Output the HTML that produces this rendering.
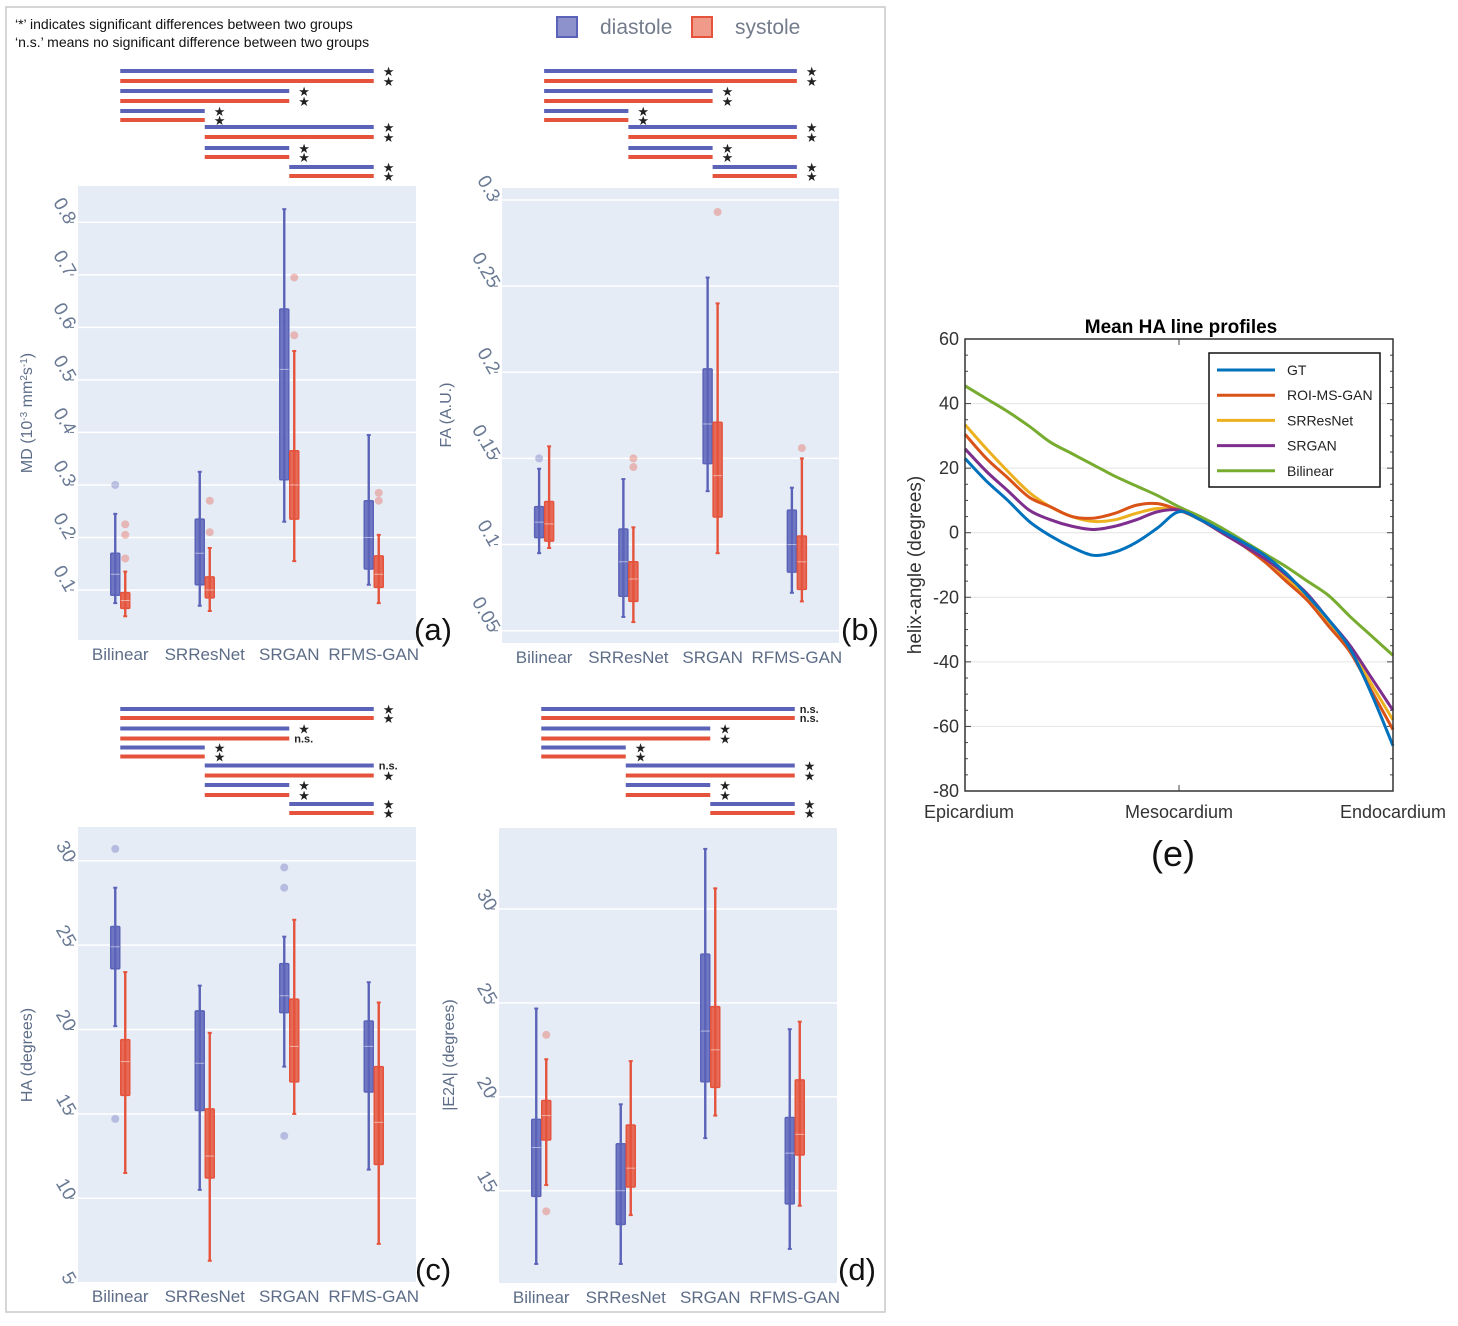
<!DOCTYPE html>
<html><head><meta charset="utf-8"><style>
html,body{margin:0;padding:0;background:#fff}
svg{display:block}
text{font-family:"Liberation Sans","DejaVu Sans",sans-serif}
</style></head><body>
<svg id="fig" width="1458" height="1326" viewBox="0 0 1458 1326" xmlns="http://www.w3.org/2000/svg">
<rect x="0" y="0" width="1458" height="1326" fill="#fff"/>
<rect x="6" y="7" width="879" height="1305" fill="none" stroke="#c8c8c8" stroke-width="1.5"/>
<text x="15" y="29" font-size="14" fill="#111">‘*’ indicates significant differences between two groups</text>
<text x="15" y="47" font-size="14" fill="#111">‘n.s.’ means no significant difference between two groups</text>
<g>
<rect x="557" y="17" width="20" height="20" fill="#8d92cc" stroke="#5b63b8" stroke-width="2"/>
<text x="600" y="34" font-size="21" fill="#747c8c">diastole</text>
<rect x="692" y="17" width="20" height="20" fill="#f09a8a" stroke="#e5533c" stroke-width="2"/>
<text x="735" y="34" font-size="21" fill="#747c8c">systole</text>
</g>
<g id="panels"></g>
<g id="pe"></g>
</svg>
<script>
// ---------- box plot data: [lowWhisker, q1, median, q3, highWhisker] ----------
const categories = ["Bilinear","SRResNet","SRGAN","RFMS-GAN"];
const mdDiastole = [[0.075,0.09,0.13,0.17,0.245],[0.07,0.11,0.17,0.235,0.325],[0.23,0.31,0.52,0.635,0.825],[0.11,0.14,0.2,0.27,0.395]];
const mdSystole  = [[0.05,0.065,0.08,0.095,0.135],[0.06,0.085,0.1,0.125,0.18],[0.155,0.235,0.3,0.365,0.555],[0.075,0.105,0.13,0.165,0.205]];
const mdOutD = [[0.3],[],[],[]];
const mdOutS = [[0.16,0.205,0.225],[0.21,0.27],[0.585,0.695],[0.27,0.285]];
const faDiastole = [[0.095,0.104,0.113,0.122,0.144],[0.058,0.07,0.09,0.109,0.138],[0.131,0.147,0.17,0.202,0.255],[0.072,0.084,0.1,0.12,0.133]];
const faSystole  = [[0.098,0.102,0.112,0.125,0.157],[0.055,0.067,0.08,0.09,0.11],[0.095,0.116,0.14,0.171,0.24],[0.067,0.074,0.09,0.105,0.15]];
const faOutD = [[0.15],[],[],[]];
const faOutS = [[],[0.145,0.15],[0.293],[0.156]];
const haDiastole = [[20.2,23.6,24.9,26.1,28.4],[10.5,15.2,18,21.1,22.6],[17.8,21,22,23.9,25.5],[11.7,16.3,19,20.5,22.8]];
const haSystole  = [[11.5,16.1,18.1,19.4,23.4],[6.3,11.2,12.5,15.3,19.8],[15,16.9,19,21.8,26.5],[7.3,12,14.5,17.8,21.6]];
const haOutD = [[30.7,14.7],[],[29.6,28.4,13.7],[]];
const haOutS = [[],[],[],[]];
const e2aDiastole = [[11.1,14.7,17.3,18.8,24.7],[11.1,13.2,15,17.5,19.6],[17.8,20.8,23.5,27.6,33.2],[11.9,14.3,17,18.9,23.6]];
const e2aSystole  = [[15.3,17.7,19,19.8,22],[13.7,15.2,16.2,18.5,21.9],[19,20.5,22.5,24.8,31.1],[14.2,16.9,18,20.9,24]];
const e2aOutD = [[],[],[],[]];
const e2aOutS = [[23.3,13.9],[],[],[]];
const mdTicks = [0.1,0.2,0.3,0.4,0.5,0.6,0.7,0.8];
const faTicks = [0.05,0.1,0.15,0.2,0.25,0.3];
const haTicks = [5,10,15,20,25,30];
const e2aTicks = [15,20,25,30];
const sigA = [["★","★"],["★","★"],["★","★"],["★","★"],["★","★"],["★","★"]];
const sigB = [["★","★"],["★","★"],["★","★"],["★","★"],["★","★"],["★","★"]];
const sigC = [["★","★"],["★","n.s."],["★","★"],["n.s.","★"],["★","★"],["★","★"]];
const sigD = [["n.s.","n.s."],["★","★"],["★","★"],["★","★"],["★","★"],["★","★"]];
const sigPairs = [[0,3],[0,2],[0,1],[1,3],[1,2],[2,3]];

// ---------- line profile data (positions 0..1 step 0.05) ----------
const profilePos = [0,0.05,0.1,0.15,0.2,0.25,0.3,0.35,0.4,0.45,0.5,0.55,0.6,0.65,0.7,0.75,0.8,0.85,0.9,0.95,1];
const gtVals = [23,16,10,3.5,-1,-4.5,-7,-6,-3,1.5,6.5,4,0.5,-3,-7,-12.5,-19.5,-27,-36,-50,-66];
const roiVals = [30.5,23,17,11,8,5,4.5,6,8.5,9,7,4,0,-4,-9,-15,-21,-29,-37,-49,-61];
const srresVals = [33.5,26,19,12.5,8,5,3.5,4,6,7.5,7,4,0,-4,-8.5,-14,-20,-28,-36,-47,-58];
const srganVals = [26,19,13,7,4,2,1,2,4,6.5,7,4,0,-4,-8,-13,-19,-27,-35,-45,-55];
const bilVals = [45.5,41.5,37.5,33,28,24.5,21,17.5,14.5,11.5,8,5,1.5,-2.5,-6.5,-10.5,-15,-19.5,-26,-32,-38];
const eTicks = [-80,-60,-40,-20,0,20,40,60];
const seriesNames = ["GT","ROI-MS-GAN","SRResNet","SRGAN","Bilinear"];

const NS="http://www.w3.org/2000/svg";
function mk(tag, attrs, parent){const e=document.createElementNS(NS,tag);for(const k in attrs)e.setAttribute(k,attrs[k]);if(parent)parent.appendChild(e);return e;}
const BLUE="#5b63b8", RED="#e5533c";

function panel(cfg){
  const g=mk("g",{},document.getElementById("panels"));
  
  
  const y=v=>cfg.p1+(v-cfg.v1)*(cfg.p2-cfg.p1)/(cfg.v2-cfg.v1);
  const bg=mk("rect",{x:cfg.x0,y:cfg.y0,width:cfg.w,height:cfg.h,fill:"#e5ecf6"},g);
  
  
  cfg.ticks.forEach(t=>{
    const gl=mk("line",{x1:cfg.x0,x2:cfg.x0+cfg.w,y1:y(t),y2:y(t),stroke:"#fff","stroke-width":1.5},g);
    
    
    mk("line",{x1:cfg.x0-8,x2:cfg.x0-4,y1:y(t),y2:y(t),stroke:"#6a7a94","stroke-width":1},g);
    const ax=cfg.x0-12, ay=y(t)+3;
    const tx=mk("text",{x:ax,y:ay,"text-anchor":"end","font-size":19,fill:"#6a7a94",transform:`rotate(60 ${ax} ${ay})`},g);
    tx.textContent=String(t);
    
    
  });
  const step=cfg.w/4;
  categories.forEach((c,i)=>{
    const cx=cfg.x0+(i+0.5)*step;
    const lab=mk("text",{x:cx,y:cfg.xlabY,"text-anchor":"middle","font-size":17,fill:"#5d6d88"},g);
    lab.textContent=c;
    
    
    [[cfg.dia[i],cfg.outD[i],BLUE,-5,"diastole"],[cfg.sys[i],cfg.outS[i],RED,5,"systole"]].forEach(([d,outs,col,off,nm])=>{
      const bx=cx+off;
      const bg2=mk("g",{},g);
      
      
      mk("line",{x1:bx,x2:bx,y1:y(d[0]),y2:y(d[4]),stroke:col,"stroke-width":2.4},bg2);
      mk("line",{x1:bx-2,x2:bx+2,y1:y(d[0]),y2:y(d[0]),stroke:col,"stroke-width":2},bg2);
      mk("line",{x1:bx-2,x2:bx+2,y1:y(d[4]),y2:y(d[4]),stroke:col,"stroke-width":2},bg2);
      mk("rect",{x:bx-4.5,y:y(d[3]),width:9,height:y(d[1])-y(d[3]),fill:col,"fill-opacity":0.85,stroke:col,"stroke-width":1.5,rx:1},bg2);
      mk("line",{x1:bx-4.5,x2:bx+4.5,y1:y(d[2]),y2:y(d[2]),stroke:"#fff","stroke-opacity":0.5,"stroke-width":1},bg2);
      outs.forEach(o=>{
        const p=mk("circle",{cx:bx,cy:y(o),r:4,fill:col,"fill-opacity":0.35},g);
        
        
      });
    });
  });
  sigPairs.forEach((pr,k)=>{
    const xa=cfg.x0+(pr[0]+0.5)*step, xb=cfg.x0+(pr[1]+0.5)*step;
    [0,1].forEach(j=>{
      const yy=cfg.sigY[k*2+j];
      const ln=mk("line",{x1:xa,x2:xb,y1:yy,y2:yy,stroke:j?RED:BLUE,"stroke-width":4},g);
      
      
      const s=cfg.sig[k][j];
      const st=mk("text",{x:xb+(s==="n.s."?5:9),y:yy+(s==="n.s."?4:5),"font-size":s==="n.s."?11:13,"font-weight":"bold",fill:"#222"},g);
      st.textContent=s;
      
      
    });
  });
  const at=mk("text",{x:cfg.titleX,y:cfg.titleY,"text-anchor":"middle","font-size":16,fill:"#5d6d88",transform:`rotate(-90 ${cfg.titleX} ${cfg.titleY})`},g);
  at.innerHTML=cfg.title;
  
  
  const pl=mk("text",{x:cfg.letterX,y:cfg.letterY,"font-size":31,fill:"#111"},g);
  pl.textContent=cfg.letter;
  
  
}
const sigTop=[71,81,91,101,111,120,127,137,148,157,167,176];
const sigBot=[709,718,728.5,738.5,747.5,756.5,765.5,775.5,785,795,804,813];
panel({name:"panel-a-md",x0:78,y0:186,w:338,h:454,v1:0.8,p1:222.3,v2:0.1,p2:590,ticks:mdTicks,dia:mdDiastole,sys:mdSystole,outD:mdOutD,outS:mdOutS,sig:sigA,sigY:sigTop,xlabY:660,title:'MD (10<tspan baseline-shift="super" font-size="10">-3</tspan> mm<tspan baseline-shift="super" font-size="10">2</tspan>s<tspan baseline-shift="super" font-size="10">-1</tspan>)',titleX:32,titleY:413,letter:"(a)",letterX:414,letterY:640});
panel({name:"panel-b-fa",x0:502,y0:188,w:337,h:455,v1:0.3,p1:200,v2:0.05,p2:630.7,ticks:faTicks,dia:faDiastole,sys:faSystole,outD:faOutD,outS:faOutS,sig:sigB,sigY:sigTop,xlabY:663,title:"FA (A.U.)",titleX:451,titleY:415,letter:"(b)",letterX:841,letterY:640});
panel({name:"panel-c-ha",x0:78,y0:827,w:338,h:456,v1:30,p1:860.7,v2:5,p2:1282.7,ticks:haTicks,dia:haDiastole,sys:haSystole,outD:haOutD,outS:haOutS,sig:sigC,sigY:sigBot,xlabY:1302,title:"HA (degrees)",titleX:32,titleY:1055,letter:"(c)",letterX:415,letterY:1280});
panel({name:"panel-d-e2a",x0:499,y0:828,w:338,h:455,v1:30,p1:909,v2:15,p2:1190.7,ticks:e2aTicks,dia:e2aDiastole,sys:e2aSystole,outD:e2aOutD,outS:e2aOutS,sig:sigD,sigY:sigBot,xlabY:1303,title:"|E2A| (degrees)",titleX:454,titleY:1055,letter:"(d)",letterX:838,letterY:1280});

(function(){
  const g=document.getElementById("pe");
  
  
  const X0=965,X1=1393,Y0=339,Y1=791;
  const xs=p=>X0+p*(X1-X0);
  const ys=v=>Y0+(60-v)*(Y1-Y0)/140;
  eTicks.forEach(t=>{
    if(t>-80&&t<60){const gl=mk("line",{x1:X0,x2:X1,y1:ys(t),y2:ys(t),stroke:"#e4e4e4","stroke-width":1},g);
      
      }
    const tx=mk("text",{x:X0-6,y:ys(t)+6,"text-anchor":"end","font-size":18,fill:"#333"},g);
    tx.textContent=String(t);
    
    
  });
  for(let v=-80;v<=60;v+=5){
    const l=v%20===0?6:3;
    mk("line",{x1:X0,x2:X0+l,y1:ys(v),y2:ys(v),stroke:"#444","stroke-width":1},g);
    mk("line",{x1:X1,x2:X1-l,y1:ys(v),y2:ys(v),stroke:"#444","stroke-width":1},g);
  }
  mk("line",{x1:xs(0.5),x2:xs(0.5),y1:Y1,y2:Y1-6,stroke:"#444"},g);
  mk("line",{x1:xs(0.5),x2:xs(0.5),y1:Y0,y2:Y0+6,stroke:"#444"},g);
  const cols=["#0072BD","#D95319","#EDB120","#7E2F8E","#77AC30"];
  const all=[gtVals,roiVals,srresVals,srganVals,bilVals];
  function path(vals){
    const P=profilePos.map((p,i)=>[xs(p),ys(vals[i])]);
    let d=`M${P[0][0]},${P[0][1]}`;
    for(let i=0;i<P.length-1;i++){
      const p0=P[Math.max(0,i-1)],p1=P[i],p2=P[i+1],p3=P[Math.min(P.length-1,i+2)];
      d+=` C${p1[0]+(p2[0]-p0[0])/6},${p1[1]+(p2[1]-p0[1])/6} ${p2[0]-(p3[0]-p1[0])/6},${p2[1]-(p3[1]-p1[1])/6} ${p2[0]},${p2[1]}`;
    }
    return d;
  }
  [4,2,1,3,0].forEach(i=>{
    const p=mk("path",{d:path(all[i]),fill:"none",stroke:cols[i],"stroke-width":3,"stroke-linejoin":"round"},g);
    
    
  });
  const fr=mk("rect",{x:X0,y:Y0,width:X1-X0,height:Y1-Y0,fill:"none",stroke:"#333","stroke-width":1.5},g);
  
  
  const lg=mk("g",{},g);
  
  
  mk("rect",{x:1209,y:353,width:171,height:134,fill:"#fff",stroke:"#111","stroke-width":1.5},lg);
  seriesNames.forEach((n,i)=>{
    const yy=370+i*25.2;
    mk("line",{x1:1217,x2:1275,y1:yy,y2:yy,stroke:cols[i],"stroke-width":3},lg);
    const t=mk("text",{x:1287,y:yy+5,"font-size":14,fill:"#222"},lg);
    t.textContent=n;
    
    
  });
  [["Epicardium",969],["Mesocardium",1179],["Endocardium",1393]].forEach(([s,x])=>{
    const t=mk("text",{x:x,y:818,"text-anchor":"middle","font-size":18,fill:"#333"},g);
    t.textContent=s;
    
    
  });
  const tt=mk("text",{x:1181,y:333,"text-anchor":"middle","font-size":19,"font-weight":"bold",fill:"#000"},g);
  tt.textContent="Mean HA line profiles";
  
  
  const yt=mk("text",{x:921,y:565,"text-anchor":"middle","font-size":19,fill:"#333",transform:"rotate(-90 921 565)"},g);
  yt.textContent="helix-angle (degrees)";
  
  
  const le=mk("text",{x:1173,y:866,"text-anchor":"middle","font-size":36,fill:"#111","font-family":"DejaVu Sans, sans-serif"},g);
  le.textContent="(e)";
  
  
})();
</script>
</body></html>
